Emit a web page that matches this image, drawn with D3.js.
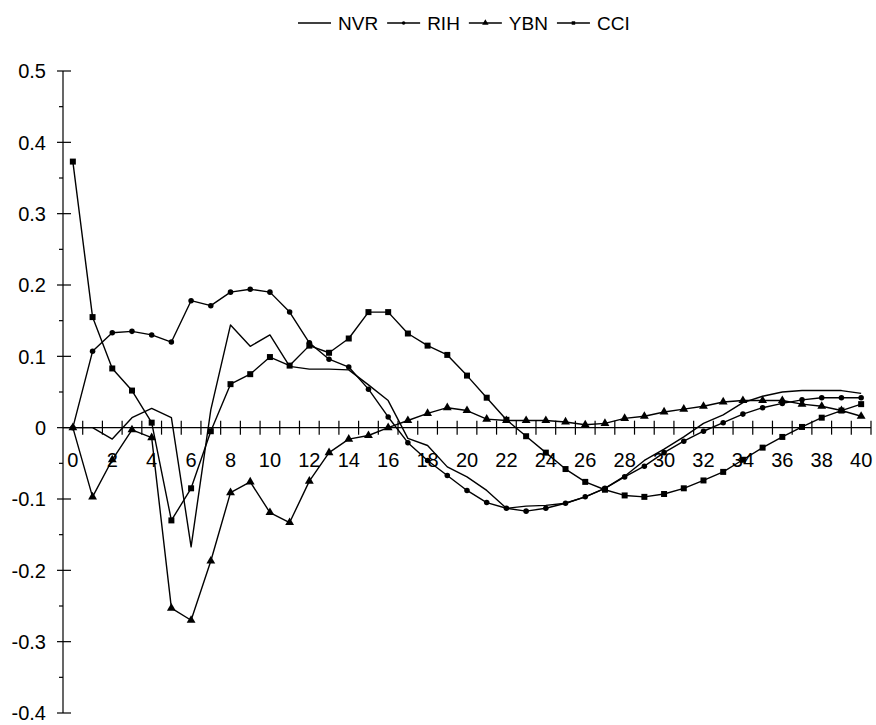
<!DOCTYPE html>
<html>
<head>
<meta charset="utf-8">
<script src="https://cdn.jsdelivr.net/npm/d3@7"></script>
<style>
  html, body { margin: 0; padding: 0; background: #fff; }
  svg { display: block; font-family: "Liberation Sans", Arial, sans-serif; }
</style>
</head>
<body>
<svg id="chart" width="876" height="725"></svg>
<script>
// ---- data ----
const lags = d3.range(0, 41);
const xTickLabels = [0, 2, 4, 6, 8, 10, 12, 14, 16, 18, 20, 22, 24, 26, 28, 30, 32, 34, 36, 38, 40];
const yTickLabels = [0.5, 0.4, 0.3, 0.2, 0.1, 0, -0.1, -0.2, -0.3, -0.4];
const seriesNames = ["NVR", "RIH", "YBN", "CCI"];

const NVR = [0.000, 0.000, -0.016, 0.014, 0.027, 0.014, -0.167, 0.025, 0.144, 0.114,
             0.130, 0.086, 0.082, 0.082, 0.081, 0.060, 0.038, -0.015, -0.025, -0.055,
             -0.069, -0.088, -0.113, -0.110, -0.109, -0.106, -0.097, -0.085, -0.068, -0.046,
             -0.030, -0.013, 0.006, 0.018, 0.035, 0.044, 0.050, 0.052, 0.052, 0.052, 0.048];
const RIH = [0.000, 0.107, 0.133, 0.135, 0.130, 0.120, 0.178, 0.171, 0.190, 0.194,
             0.190, 0.162, 0.119, 0.096, 0.085, 0.054, 0.015, -0.021, -0.046, -0.067,
             -0.088, -0.105, -0.113, -0.117, -0.113, -0.106, -0.097, -0.085, -0.069, -0.054,
             -0.035, -0.019, -0.005, 0.007, 0.019, 0.028, 0.034, 0.039, 0.042, 0.042, 0.042];
const YBN = [0.000, -0.097, -0.045, -0.003, -0.014, -0.253, -0.270, -0.187, -0.091, -0.076,
             -0.119, -0.133, -0.075, -0.035, -0.016, -0.011, 0.000, 0.010, 0.020, 0.028,
             0.024, 0.012, 0.010, 0.010, 0.010, 0.008, 0.004, 0.006, 0.013, 0.016,
             0.022, 0.026, 0.030, 0.036, 0.038, 0.038, 0.038, 0.033, 0.030, 0.024, 0.016];
const CCI = [0.373, 0.155, 0.083, 0.052, 0.007, -0.130, -0.085, -0.005, 0.061, 0.075,
             0.099, 0.087, 0.115, 0.105, 0.125, 0.162, 0.162, 0.132, 0.115, 0.102,
             0.073, 0.042, 0.011, -0.012, -0.035, -0.058, -0.076, -0.087, -0.095, -0.097,
             -0.093, -0.085, -0.074, -0.062, -0.045, -0.028, -0.013, 0.001, 0.014, 0.024, 0.033];

const seriesValues = [NVR, RIH, YBN, CCI];
const seriesMarkers = [null, "circle", "triangle", "square"];

// ---- layout ----
const svg = d3.select("#chart");
const x = d3.scaleLinear().domain([-0.5, 40.5]).range([63, 871]);
const y = d3.scaleLinear().domain([-0.4, 0.5]).range([713, 71]);
const fontSize = 20;
const legendFontSize = 19;
const fmt = v => v === 0 ? "0" : d3.format(".1f")(v).replace("\u2212", "-");

// y axis
const yAxisG = svg.append("g");
yAxisG.append("line").attr("x1", x(-0.5)).attr("x2", x(-0.5))
  .attr("y1", y(0.5)).attr("y2", y(-0.4)).attr("stroke", "#000").attr("stroke-width", 1.2);
yTickLabels.forEach(v => {
  yAxisG.append("line").attr("x1", x(-0.5) - 6).attr("x2", x(-0.5) + 8)
    .attr("y1", y(v)).attr("y2", y(v)).attr("stroke", "#000").attr("stroke-width", 1.2);
  yAxisG.append("text").attr("x", 46).attr("y", y(v)).attr("dy", "0.36em")
    .attr("text-anchor", "end").attr("font-size", fontSize).attr("fill", "#000")
    .text(fmt(v));
});
d3.range(-0.35, 0.5, 0.1).forEach(v => {
  yAxisG.append("line").attr("x1", x(-0.5) - 4).attr("x2", x(-0.5))
    .attr("y1", y(v)).attr("y2", y(v)).attr("stroke", "#000").attr("stroke-width", 1.2);
});

// x axis at 0
const xAxisG = svg.append("g");
xAxisG.append("line").attr("x1", x(-0.5)).attr("x2", x(40.5))
  .attr("y1", y(0)).attr("y2", y(0)).attr("stroke", "#000").attr("stroke-width", 1.2);
lags.forEach(i => {
  xAxisG.append("line").attr("x1", x(i + 0.5)).attr("x2", x(i + 0.5))
    .attr("y1", y(0) - 7).attr("y2", y(0) + 7).attr("stroke", "#000").attr("stroke-width", 1.2);
});
xTickLabels.forEach(v => {
  xAxisG.append("text").attr("x", x(v)).attr("y", 467)
    .attr("text-anchor", "middle").attr("font-size", fontSize).attr("fill", "#000").text(v);
});

// series
const line = d3.line().x((d, i) => x(lags[i])).y(d => y(d));
const markerShape = {
  circle: d3.symbol().type(d3.symbolCircle).size(24),
  triangle: d3.symbol().type(d3.symbolTriangle).size(34),
  square: d3.symbol().type(d3.symbolSquare).size(36)
};
const markerShapeSmall = {
  circle: d3.symbol().type(d3.symbolCircle).size(10),
  triangle: d3.symbol().type(d3.symbolTriangle).size(18),
  square: d3.symbol().type(d3.symbolSquare).size(12)
};

seriesValues.forEach((vals, si) => {
  const g = svg.append("g");
  g.append("path").datum(vals).attr("d", line)
    .attr("fill", "none").attr("stroke", "#000").attr("stroke-width", 1.4)
    .attr("stroke-linejoin", "round");
  const m = seriesMarkers[si];
  if (m) {
    g.selectAll("path.mk").data(vals).join("path").attr("class", "mk")
      .attr("d", markerShape[m]())
      .attr("transform", (d, i) => `translate(${x(lags[i])},${y(d)})`)
      .attr("fill", "#000");
  }
});

// legend
const legend = svg.append("g");
let cx = 298;
const ly = 23;
seriesNames.forEach((name, si) => {
  legend.append("line").attr("x1", cx).attr("x2", cx + 33).attr("y1", ly).attr("y2", ly)
    .attr("stroke", "#000").attr("stroke-width", 1.3);
  const m = seriesMarkers[si];
  if (m) {
    legend.append("path").attr("d", markerShapeSmall[m]())
      .attr("transform", `translate(${cx + 16.5},${ly})`).attr("fill", "#000");
  }
  const t = legend.append("text").attr("x", cx + 40).attr("y", ly).attr("dy", "0.36em")
    .attr("font-size", legendFontSize).attr("fill", "#000").text(name);
  cx += 40 + t.node().getComputedTextLength() + 9;
});
</script>
</body>
</html>
